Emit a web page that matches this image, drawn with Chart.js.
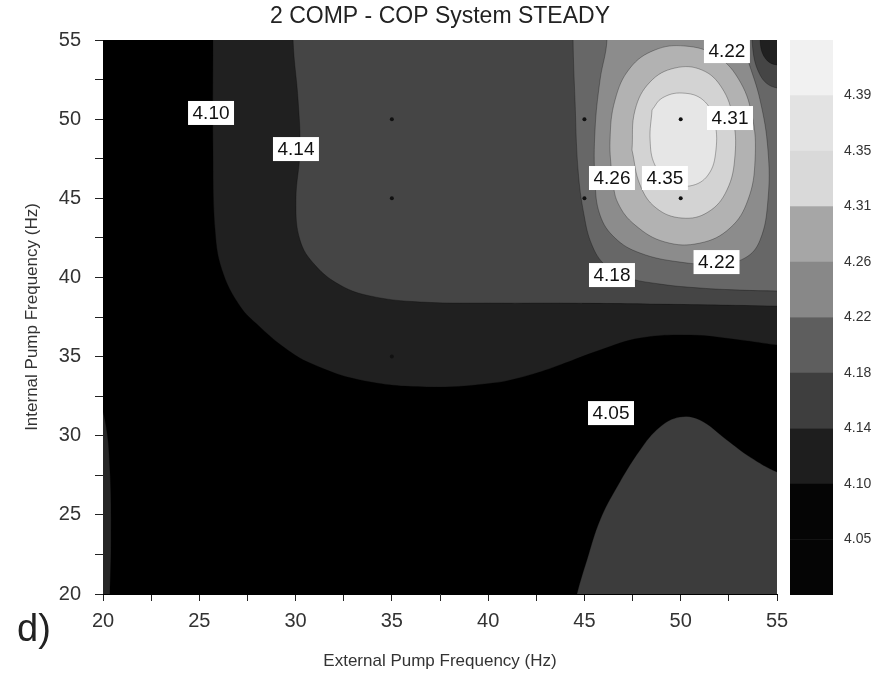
<!DOCTYPE html>
<html><head><meta charset="utf-8">
<script src="https://cdn.jsdelivr.net/npm/chart.js@4.4.1/dist/chart.umd.min.js"></script>
<style>
html,body{margin:0;padding:0;background:#fff;}
#wrap{position:relative;width:880px;height:679px;overflow:hidden;}
#main{position:absolute;left:0;top:0;}
#cbar{position:absolute;left:780px;top:0;}
#tag{position:absolute;left:17px;top:606px;font:38px "Liberation Sans",Arial,sans-serif;color:#222;line-height:44px;}
</style></head><body>
<div id="wrap">
<canvas id="main" width="880" height="679"></canvas>
<canvas id="cbar" width="100" height="679"></canvas>
<div id="tag">d)</div>
</div>
<script>
const FONT = '"Liberation Sans", Arial, sans-serif';
const titleText = '2 COMP - COP System STEADY';
const xTitle = 'External Pump Frequency (Hz)';
const yTitle = 'Internal Pump Frequency (Hz)';
const xTickLabels = ['20','25','30','35','40','45','50','55'];
const yTickLabels = ['20','25','30','35','40','45','50','55'];

// contour boundaries (x = external Hz, y = internal Hz)
const region410 = [[25.71,60],[25.71,55],[25.71,48.05],[25.82,43.0],[26.18,40.47],[27.11,38.19],[28.15,36.87],[29.45,35.54],[30.75,34.59],[33.35,33.52],[36.83,33.08],[40.25,33.33],[42.17,33.84],[43.73,34.47],[45.81,35.41],[47.89,36.17],[50.48,36.36],[53.08,36.05],[55,35.73],[57,35.5],[60,35.4],[62,60]];
const regionLeftEdge = [[19.5,33.2],[20.10,30.99],[20.36,27.83],[20.42,23.41],[20.36,20],[20.3,17],[19,17]];
const regionHill = [[44.25,18],[44.61,20],[45.13,22.15],[45.81,24.67],[46.69,26.76],[47.89,29.10],[48.92,30.55],[49.96,31.18],[51.0,30.99],[52.40,29.73],[53.60,28.65],[55,27.71],[57,26.9],[60,26.5],[60,15]];
const region414 = [[29.87,60],[29.87,55],[30.13,51.21],[30.23,48.05],[30.02,44.89],[30.23,42.36],[31.01,40.78],[32.31,39.52],[33.87,38.83],[36.46,38.45],[40.62,38.38],[43.73,38.38],[48.41,38.32],[55,38.19],[58,38.1],[61,45],[58,53.4],[55,53.42],[54.38,53.86],[54.12,55],[54.1,60]];
const region418 = [[44.41,60],[44.41,55],[44.51,51.21],[44.67,46.79],[44.98,43.94],[45.39,42.05],[46.07,40.78],[47.11,40.03],[48.93,39.58],[51.0,39.33],[53.08,39.2],[55,39.14],[58,39.1],[61,45],[58,51.9],[55,51.97],[54.12,52.79],[53.70,55],[53.6,60]];
const region422 = [[46.17,60],[46.17,55],[45.81,52.47],[45.55,49.31],[45.55,46.15],[45.81,43.94],[46.59,42.49],[47.89,41.54],[49.96,40.97],[51.94,40.85],[53.34,41.23],[54.12,42.36],[54.53,44.89],[54.53,48.05],[54.12,51.21],[53.49,53.74],[53.18,55],[53.1,60]];
const region426 = [[46.43,46.28],[46.33,48.68],[46.59,51.21],[47.37,53.23],[48.66,54.37],[50.22,54.62],[51.78,54.05],[52.97,52.60],[53.70,50.26],[53.86,47.42],[53.49,44.89],[52.56,43.12],[51.0,42.17],[49.18,42.24],[47.63,43.31],[46.74,44.70],[46.43,46.28]];
const region431 = [[47.47,48.05],[47.63,50.58],[48.41,52.35],[49.70,53.23],[51.11,53.10],[52.14,51.97],[52.71,50.07],[52.82,47.73],[52.40,45.52],[51.42,44.13],[50.07,43.75],[48.72,44.39],[47.89,45.84],[47.47,48.05]];
const region435 = [[48.51,50.58],[48.41,48.68],[48.66,47.10],[49.44,46.03],[50.48,45.78],[51.42,46.47],[51.83,48.05],[51.73,49.95],[51.16,51.21],[50.07,51.65],[49.03,51.33],[48.51,50.58]];

// measured points
const dotX = [35,35,35,45,45,50,50];
const dotY = [50,45,35,50,45,50,45];

// contour labels
const contourLabelText = ['4.10','4.14','4.22','4.31','4.26','4.35','4.18','4.22','4.05'];
const contourLabelX = [25.61,30.02,52.40,52.56,46.43,49.18,46.43,51.86,46.38];
const contourLabelY = [50.39,48.11,54.30,50.07,46.28,46.28,40.15,40.97,31.43];

// colour bar
const cbLabels = ['4.05','4.10','4.14','4.18','4.22','4.26','4.31','4.35','4.39'];
const cbColors = ['#050505','#050505','#1e1e1e','#3e3e3e','#5e5e5e','#888888','#a6a6a6','#d9d9d9','#e3e3e3','#f1f1f1'];

Chart.defaults.font.family = FONT;
Chart.defaults.color = '#333';

const regions = [
  {label:'≥4.10', pts:region410, color:'#202020'},
  {label:'edge', pts:regionLeftEdge, color:'#262626'},
  {label:'hill', pts:regionHill, color:'#3c3c3c'},
  {label:'≥4.14', pts:region414, color:'#454545'},
  {label:'≥4.18', pts:region418, color:'#676767'},
  {label:'≥4.22', pts:region422, color:'#8c8c8c'},
  {label:'≥4.26', pts:region426, color:'#b2b2b2'},
  {label:'≥4.31', pts:region431, color:'#d3d3d3'},
  {label:'≥4.35', pts:region435, color:'#e6e6e6'}
];

const datasets = regions.map((r, i) => ({
  label: r.label,
  data: r.pts.map(p => ({x: p[0], y: p[1]})),
  showLine: true, tension: 0.4, pointRadius: 0, fill: false,
  borderColor: 'rgba(0,0,0,0.28)', borderWidth: 1,
  polyFill: r.color, order: 100 - i
}));
datasets.push({
  label: 'points',
  data: dotX.map((x, i) => ({x, y: dotY[i]})),
  showLine: false, pointRadius: 2, pointBackgroundColor: '#111', pointBorderWidth: 0, order: 0
});

const bgPlugin = {
  id: 'areaBg',
  beforeDatasetsDraw(chart) {
    const {ctx, chartArea: a} = chart;
    ctx.save(); ctx.fillStyle = '#000'; ctx.fillRect(a.left, a.top, a.right - a.left, a.bottom - a.top); ctx.restore();
  }
};
const polyPlugin = {
  id: 'polyFill',
  beforeDatasetDraw(chart, args) {
    const ds = chart.data.datasets[args.index];
    if (!ds.polyFill) return;
    const line = args.meta.dataset;
    if (!line) return;
    const ctx = chart.ctx, a = chart.chartArea;
    line.updateControlPoints(a, 'x');
    ctx.save();
    ctx.beginPath(); ctx.rect(a.left, a.top, a.right - a.left, a.bottom - a.top); ctx.clip();
    ctx.beginPath(); line.path(ctx); ctx.closePath();
    ctx.fillStyle = ds.polyFill; ctx.fill();
    ctx.restore();
  }
};
const labelPlugin = {
  id: 'contourLabels',
  afterDatasetsDraw(chart) {
    const {ctx, scales: {x, y}} = chart;
    ctx.save();
    ctx.font = '19px ' + FONT; ctx.textAlign = 'center'; ctx.textBaseline = 'middle';
    contourLabelText.forEach((t, i) => {
      const px = x.getPixelForValue(contourLabelX[i]);
      const py = y.getPixelForValue(contourLabelY[i]);
      const w = ctx.measureText(t).width + 9, h = 24;
      ctx.fillStyle = '#fff'; ctx.fillRect(px - w / 2, py - h / 2, w, h);
      ctx.fillStyle = '#111'; ctx.fillText(t, px, py + 1);
    });
    ctx.restore();
  }
};

new Chart(document.getElementById('main'), {
  type: 'scatter',
  data: {datasets},
  options: {
    responsive: false, animation: false, events: [], devicePixelRatio: 1,
    layout: {padding: {left: 0, right: 0, top: 0, bottom: 0}},
    plugins: {
      legend: {display: false}, tooltip: {enabled: false},
      title: {display: true, text: titleText, color: '#222', font: {size: 23, weight: 'normal', family: FONT}, padding: {top: 3, bottom: 9.4}}
    },
    scales: {
      x: {
        type: 'linear', min: 20, max: 55,
        ticks: {stepSize: 2.5, autoSkip: false, maxRotation: 0, color: '#333', font: {size: 20}, padding: 8,
          callback: v => xTickLabels.includes(String(v)) ? String(v) : ''},
        grid: {drawOnChartArea: false, drawTicks: true, tickLength: 7, color: '#222'},
        border: {display: true, color: '#000', width: 1},
        title: {display: true, text: xTitle, color: '#333', font: {size: 17}, padding: {top: 0, bottom: 7}},
        afterFit: s => { s.height = 85; }
      },
      y: {
        type: 'linear', min: 20, max: 55,
        ticks: {stepSize: 2.5, autoSkip: false, color: '#333', font: {size: 20}, padding: 14,
          callback: v => yTickLabels.includes(String(v)) ? String(v) : ''},
        grid: {drawOnChartArea: false, drawTicks: true, tickLength: 8, color: '#222'},
        border: {display: true, color: '#000', width: 1},
        title: {display: true, text: yTitle, color: '#333', font: {size: 17}, padding: {top: 22, bottom: 0}},
        afterFit: s => { s.width = 103; }
      },
      yRight: {
        position: 'right', display: true,
        ticks: {display: false}, grid: {display: false}, border: {display: false},
        afterFit: s => { s.width = 103; }
      }
    }
  },
  plugins: [bgPlugin, polyPlugin, labelPlugin]
});

new Chart(document.getElementById('cbar'), {
  type: 'bar',
  data: {
    labels: ['colour'],
    datasets: cbColors.map((c, i) => ({data: [[i, i + 1]], backgroundColor: c, borderWidth: 0, grouped: false, barPercentage: 1, categoryPercentage: 1}))
  },
  options: {
    responsive: false, animation: false, events: [], devicePixelRatio: 1,
    layout: {padding: {left: 10, top: 40, bottom: 84, right: 0}},
    plugins: {legend: {display: false}, tooltip: {enabled: false}, title: {display: false}},
    scales: {
      x: {display: false},
      y: {
        position: 'right', min: 0, max: 10,
        afterBuildTicks: s => { s.ticks = cbLabels.map((l, i) => ({value: i + 1})); },
        ticks: {callback: v => cbLabels[v - 1], color: '#333', font: {size: 14}, padding: 3},
        grid: {display: false}, border: {display: false},
        afterFit: s => { s.width = 47; }
      }
    }
  }
});
</script>
</body></html>
